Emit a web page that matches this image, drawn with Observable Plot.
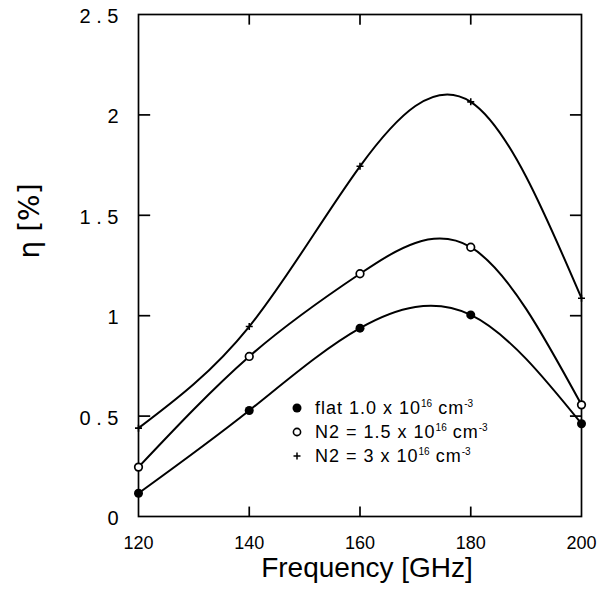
<!DOCTYPE html>
<html><head><meta charset="utf-8">
<script src="https://cdn.jsdelivr.net/npm/d3@7"></script>
<script src="https://cdn.jsdelivr.net/npm/@observablehq/plot@0.6"></script>
<style>
body{margin:0;background:#fff;}
#wrap{position:relative;width:601px;height:595px;}
.leg{position:absolute;font-family:"Liberation Sans",Arial,sans-serif;font-size:18px;line-height:18px;color:#000;white-space:nowrap;letter-spacing:1px;}
.leg sup{font-size:10px;vertical-align:7px;line-height:0;letter-spacing:0;}
.mk{position:absolute;}
g[aria-label="y-axis tick label"]{font-size:20px;}
g[aria-label="x-axis tick label"]{font-size:18px;}
</style></head>
<body><div id="wrap"></div>
<script>
// Data
const freq = [120, 140, 160, 180, 200];
const flat10 = [0.116, 0.528, 0.938, 1.004, 0.462];     // flat 1.0 x 10^16 cm^-3
const n2_15 = [0.246, 0.797, 1.209, 1.341, 0.556];      // N2 = 1.5 x 10^16 cm^-3
const n2_3 = [0.44, 0.946, 1.744, 2.065, 1.087];        // N2 = 3 x 10^16 cm^-3
const xTicks = [120, 140, 160, 180, 200];
const yTicks = [0, 0.5, 1, 1.5, 2, 2.5];
const yTickLabels = ["0", "0 . 5", "1", "1 . 5", "2", "2 . 5"];
const seriesNames = ["flat 1.0 x 10|16| cm|-3", "N2 = 1.5 x 10|16| cm|-3", "N2 = 3 x 10|16| cm|-3"];

const rows = (ys) => freq.map((f, i) => ({f, v: ys[i]}));
const dFlat = rows(flat10), dN15 = rows(n2_15), dN3 = rows(n2_3);

const plusSym = {draw(c, size) { const r = Math.sqrt(size / Math.PI); c.moveTo(-r, 0); c.lineTo(r, 0); c.moveTo(0, -r); c.lineTo(0, r); }};
const innerX = xTicks.slice(1, -1), innerY = yTicks.slice(1, -1);
const font = "'Liberation Sans', Arial, sans-serif";

const chart = Plot.plot({
  width: 601, height: 595,
  marginLeft: 138, marginRight: 20, marginTop: 14, marginBottom: 79,
  style: {fontFamily: font, background: "white", color: "black"},
  x: {domain: [120, 200], label: null},
  y: {domain: [0, 2.5], label: null},
  marks: [
    Plot.axisX({ticks: xTicks, tickSize: 0, tickPadding: 20, fontSize: 18, label: null, letterSpacing: -1}),
    Plot.axisY({ticks: yTicks, tickSize: 0, tickPadding: 20, fontSize: 20, dy: 2, label: null,
      tickFormat: d => yTickLabels[yTicks.indexOf(d)]}),
    Plot.frame({stroke: "black", strokeWidth: 1.7}),
    Plot.ruleX(innerX, {x: d => d, y1: 0, y2: 0.047, stroke: "black", strokeWidth: 1.7}),
    Plot.ruleX(innerX, {x: d => d, y1: 2.5, y2: 2.447, stroke: "black", strokeWidth: 1.7}),
    Plot.ruleY(innerY, {y: d => d, x1: 120, x2: 122.2, stroke: "black", strokeWidth: 1.7}),
    Plot.ruleY(innerY, {y: d => d, x1: 200, x2: 198, stroke: "black", strokeWidth: 1.7}),
    Plot.line(dFlat, {x: "f", y: "v", curve: "natural", stroke: "black", strokeWidth: 2}),
    Plot.line(dN15, {x: "f", y: "v", curve: "natural", stroke: "black", strokeWidth: 2}),
    Plot.line(dN3, {x: "f", y: "v", curve: "natural", stroke: "black", strokeWidth: 2}),
    Plot.dot(dFlat, {x: "f", y: "v", r: 4.5, fill: "black", stroke: "none"}),
    Plot.dot(dN15, {x: "f", y: "v", r: 3.8, fill: "white", stroke: "black", strokeWidth: 1.7}),
    Plot.dot(dN3, {x: "f", y: "v", r: 3.5, symbol: plusSym, fill: "none", stroke: "black", strokeWidth: 1.6}),
    Plot.text(["Frequency [GHz]"], {frameAnchor: "bottom", dx: 7, dy: 52, fontSize: 28, lineAnchor: "middle", fill: "black"}),
    Plot.text(["η [%]"], {frameAnchor: "left", dx: -108, dy: -7, rotate: -90, fontSize: 28, fill: "black", fontFamily: "'DejaVu Sans', sans-serif"})
  ]
});
const wrap = document.getElementById("wrap");
wrap.appendChild(chart);

// Legend overlay
const markers = [
  '<svg width="14" height="14"><circle cx="7" cy="7" r="4.5" fill="black"/></svg>',
  '<svg width="14" height="14"><circle cx="7" cy="7" r="3.6" fill="white" stroke="black" stroke-width="1.6"/></svg>',
  '<svg width="14" height="14"><path d="M3.5,7H10.5M7,3.5V10.5" stroke="black" stroke-width="1.5"/></svg>'
];
const rowCenters = [408, 432, 456];
seriesNames.forEach((name, i) => {
  const m = document.createElement("div");
  m.className = "mk";
  m.style.left = (297 - 7) + "px";
  m.style.top = (rowCenters[i] - 7) + "px";
  m.innerHTML = markers[i];
  wrap.appendChild(m);
  const parts = name.split("|");
  const t = document.createElement("div");
  t.className = "leg";
  t.style.left = "315px";
  t.style.top = (rowCenters[i] - 9) + "px";
  t.innerHTML = parts[0] + "<sup>" + parts[1] + "</sup>" + parts[2] + "<sup>" + parts[3] + "</sup>";
  wrap.appendChild(t);
});
</script>
</body></html>
